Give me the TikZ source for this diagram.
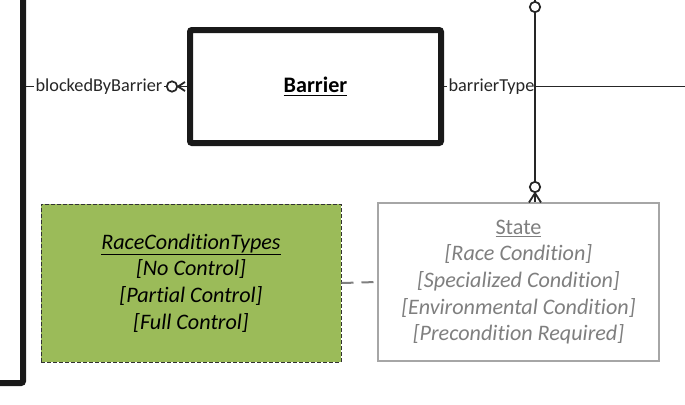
\documentclass[tikz,border=0pt]{standalone}
\usepackage{fontspec}
\setmainfont[Ligatures=NoCommon]{Carlito}
\usepackage{tikz}
\usetikzlibrary{positioning, calc}
\definecolor{entline}{RGB}{25,25,25}
\definecolor{relline}{RGB}{38,38,38}
\definecolor{enumfill}{RGB}{155,187,89}
\definecolor{stategray}{RGB}{127,127,127}
\definecolor{stateedge}{RGB}{166,166,166}

\begin{document}
\begin{tikzpicture}[x=0.75pt, y=-0.75pt,
    entity/.style={draw=entline, line width=4.5pt, rounded corners=1.5pt, fill=white},
    enumbox/.style={draw=black!80, fill=enumfill, dash pattern=on 3pt off 1.5pt, line width=0.75pt,
      minimum width=225pt, minimum height=118.5pt, align=center,
      font=\fontsize{16.6}{20}\selectfont\itshape},
    statebox/.style={draw=stateedge, line width=0.8pt, fill=white, text=stategray,
      minimum width=210.75pt, minimum height=118.5pt, align=center,
      font=\fontsize{16.6}{20}\selectfont\itshape},
    rel/.style={draw=relline, line width=1.35pt},
    rellabel/.style={fill=white, inner sep=1pt, text=relline, font=\fontsize{13.7}{15}\selectfont},
    optcirc/.style={circle, draw=relline, line width=1.3pt, fill=white, inner sep=0pt, minimum size=7.8pt}]
  \clip (0,0) rectangle (685,404);
  \useasboundingbox (0,0) rectangle (685,404);
  % Entities
  \node[entity, minimum width=184.5pt, minimum height=349.5pt] (other) at (-100,150) {};
  \node[entity, minimum width=188.25pt, minimum height=84.75pt,
    font=\fontsize{16.6}{18}\selectfont\bfseries] (barrier) at (315.5,86.5) {\underline{Barrier}};
  % Enumeration and state
  \node[enumbox] (racetypes) at (191,283)
    {\underline{RaceConditionTypes}\\{}[No Control]\\{}[Partial Control]\\{}[Full Control]};
  \node[statebox] (state) at (518.5,282)
    {\upshape\underline{State}\\{}[Race Condition]\\{}[Specialized Condition]\\{}[Environmental Condition]\\{}[Precondition Required]};
  % blockedByBarrier: zero or many at Barrier
  \node[optcirc] (blkcirc) at (172,86.5) {};
  \draw[rel] (other.east |- blkcirc) -- (blkcirc.west);
  \node[rellabel, anchor=west] (blklabel) at ($(other.east |- blkcirc)+(8,0)$) {blockedByBarrier};
  \draw[rel] (blkcirc.east) -- (barrier.west);
  \draw[rel] (blkcirc.east) -- ($(barrier.west)+(-2,-4.5)$);
  \draw[rel] (blkcirc.east) -- ($(barrier.west)+(-2,4.5)$);
  % barrierType
  \coordinate (typeend) at (700,86.5);
  \draw[rel] (barrier.east) -- (typeend);
  \node[rellabel, anchor=west] (typelabel) at ($(barrier.east)+(3,0)$) {barrierType};
  % vertical relation to State: zero or many at State
  \coordinate (upend) at (535,-20);
  \node[optcirc] (topcirc) at (535,7) {};
  \node[optcirc] (statecirc) at (535,187) {};
  \draw[rel] (upend) -- (topcirc.north);
  \draw[rel] (topcirc.south) -- (statecirc.north);
  \draw[rel] (statecirc.south) -- (state.north -| statecirc);
  \draw[rel] (statecirc.south) -- ($(state.north -| statecirc)+(-6,0)$);
  \draw[rel] (statecirc.south) -- ($(state.north -| statecirc)+(6,0)$);
  % State uses RaceConditionTypes
  \draw[draw=stategray, line width=1.5pt, dash pattern=on 9pt off 6pt] (racetypes.east) -- (state.west);
\end{tikzpicture}
\end{document}
